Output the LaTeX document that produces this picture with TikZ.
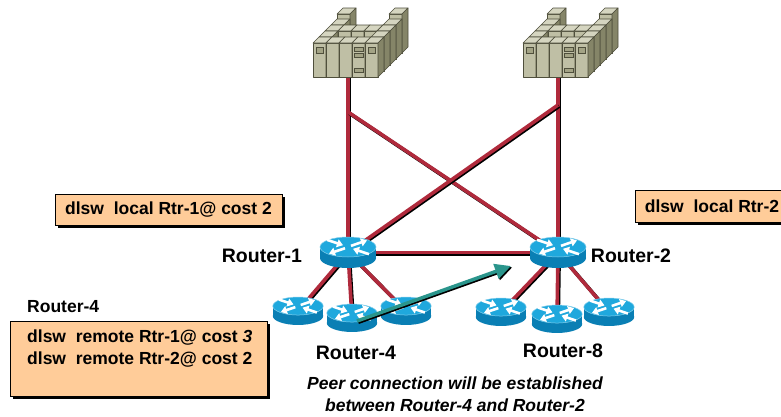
\documentclass[tikz,border=0pt]{standalone}
\usepackage{fontspec}
\setmainfont{Liberation Sans}
\usetikzlibrary{arrows.meta,shadows}

\definecolor{linkred}{HTML}{B02A3C}
\definecolor{peach}{HTML}{FFCC99}
\definecolor{arrowteal}{HTML}{2A958C}
\definecolor{rtop}{HTML}{1FA8DD}
\definecolor{rside}{HTML}{0A7FB4}
\definecolor{mffront}{HTML}{BFBFA5}
\definecolor{mftop}{HTML}{D5D5C0}
\definecolor{mfside}{HTML}{858568}
\definecolor{mfline}{HTML}{4F4F3C}
\definecolor{mfpanel}{HTML}{A3A385}

\newcommand{\boxfont}{\fontsize{17.5}{22}\selectfont\bfseries}
\newcommand{\labelfont}{\fontsize{19.5}{23}\selectfont\bfseries}

% one cabinet of the mainframe: column, depth, height
\newcommand{\mfcab}[3]{%
  \pgfmathsetmacro{\mfxl}{13*#1+6*#2}%
  \pgfmathsetmacro{\mfxr}{\mfxl+13}%
  \pgfmathsetmacro{\mfyb}{-6*#2}%
  \pgfmathsetmacro{\mfyt}{\mfyb-#3}%
  \pgfmathsetmacro{\mfxlb}{\mfxl+6}%
  \pgfmathsetmacro{\mfxrb}{\mfxr+6}%
  \pgfmathsetmacro{\mfytb}{\mfyt-6}%
  \pgfmathsetmacro{\mfybb}{\mfyb-6}%
  \filldraw[mfface] (\mfxl,\mfyt) rectangle (\mfxr,\mfyb);
  \filldraw[mftopface] (\mfxl,\mfyt) -- (\mfxr,\mfyt) -- (\mfxrb,\mfytb) -- (\mfxlb,\mfytb) -- cycle;
  \filldraw[mfsideface] (\mfxr,\mfyt) -- (\mfxrb,\mfytb) -- (\mfxrb,\mfybb) -- (\mfxr,\mfyb) -- cycle;
}

\tikzset{
  mfface/.style={fill=mffront, draw=mfline, line width=0.6pt, line join=round},
  mftopface/.style={fill=mftop, draw=mfline, line width=0.6pt, line join=round},
  mfsideface/.style={fill=mfside, draw=mfline, line width=0.6pt, line join=round},
  mfpanelbox/.style={fill=mfpanel, draw=mfline, line width=0.5pt},
  link/.style={draw=linkred, line width=3.6pt,
    preaction={draw=black, line width=3.6pt, transform canvas={xshift=1.2pt, yshift=-1.2pt}}},
  peerarrow/.style={draw=arrowteal, color=arrowteal, line width=3.5pt,
    -{Triangle[length=16pt,width=15pt]}},
  notebox/.style={draw=black, line width=0.8pt, fill=peach, inner sep=0pt,
    drop shadow={shadow xshift=3pt, shadow yshift=-3pt, fill=black, opacity=1}},
  pics/router/.style={code={
    \fill[rside] (-28,-5.5) rectangle (28,5.5);
    \fill[rside] (0,5.5) ellipse [x radius=28, y radius=10];
    \fill[rtop] (0,-5.5) ellipse [x radius=28, y radius=10];
    \draw[rtop!55!white, line width=0.5pt] (0,-5.5) ellipse [x radius=28, y radius=10];
    \begin{scope}[shift={(0,-5.5)}, white, line width=2.6pt, -{Triangle[length=6pt,width=8pt]}]
      \draw (3,-1.2) -- (19,-6.6);
      \draw (-3,1.2) -- (-19,6.6);
      \draw (-21,-7.2) -- (-5,-1.8);
      \draw (21,7.2) -- (5,1.8);
    \end{scope}
  }},
  pics/mainframe/.style={code={
    \begin{scope}[shift={(-35,0)}]
      \mfcab{0}{4}{39}\mfcab{4}{4}{39}
      \mfcab{0}{3}{34}\mfcab{4}{3}{34}
      \mfcab{0}{2}{34}\mfcab{1}{2}{34}\mfcab{2}{2}{34}\mfcab{3}{2}{34}\mfcab{4}{2}{34}
      \mfcab{0}{1}{34}\mfcab{4}{1}{34}
      \mfcab{0}{0}{34}\mfcab{1}{0}{34}\mfcab{2}{0}{34}\mfcab{3}{0}{34}\mfcab{4}{0}{34}
      % front panels
      \filldraw[mfpanelbox] (3,-30) rectangle (10.5,-24);
      \filldraw[mfpanelbox] (41,-30) rectangle (50,-26);
      \filldraw[mfpanelbox] (41,-24) rectangle (50,-20);
      \filldraw[mfpanelbox] (41,-9) rectangle (50,-5);
      \filldraw[mfpanelbox] (55,-30) rectangle (62.5,-24);
    \end{scope}
  }}
}

\begin{document}
\begin{tikzpicture}[x=1pt, y=-1pt]
  \useasboundingbox (0,0) rectangle (781,416);
  \fill[white] (0,0) rectangle (781,416);

  % positions
  \coordinate (mf1) at (348,77);
  \coordinate (mf2) at (558,77);
  \coordinate (mf1b) at (348,112);
  \coordinate (mf2b) at (558,105);
  \coordinate (r1) at (348,252.5);
  \coordinate (r2) at (558,252.5);
  \coordinate (r4a) at (298,311);
  \coordinate (r4b) at (352,318);
  \coordinate (r4c) at (406,311);
  \coordinate (r8a) at (501,312);
  \coordinate (r8b) at (557,319);
  \coordinate (r8c) at (609,312);
  \coordinate (peertip) at (511,266);

  % links
  \draw[link] (mf1) -- (r1);
  \draw[link] (mf2) -- (r2);
  \draw[link] (mf1b) -- (r2);
  \draw[link] (mf2b) -- (r1);
  \draw[link] (r1) -- (r2);
  \draw[link] (r1) -- (r4a);
  \draw[link] (r1) -- (r4b);
  \draw[link] (r1) -- (r4c);
  \draw[link] (r2) -- (r8a);
  \draw[link] (r2) -- (r8b);
  \draw[link] (r2) -- (r8c);

  % devices
  \pic at (mf1) {mainframe};
  \pic at (mf2) {mainframe};
  \pic at (r1) {router};
  \pic at (r2) {router};
  \foreach \r in {r4a,r4b,r4c,r8a,r8b,r8c}
    \pic[scale=0.9] at (\r) {router};

  % peer connection arrow
  \draw[peerarrow, draw=black, color=black, transform canvas={xshift=1.3pt, yshift=-1.3pt}]
    ([shift={(5,3)}]r4b) -- (peertip);
  \draw[peerarrow] ([shift={(5,3)}]r4b) -- (peertip);

  % labels
  \node[font=\labelfont, inner sep=0pt] (lr1) at (262,256) {Router-1};
  \node[font=\labelfont, inner sep=0pt] (lr2) at (631,256) {Router-2};
  \node[font=\labelfont, inner sep=0pt] (lr4) at (356,353) {Router-4};
  \node[font=\labelfont, inner sep=0pt] (lr8) at (563,351) {Router-8};
  \node[font=\boxfont, inner sep=0pt, anchor=west] (lr4top) at (27,307) {Router-4};

  % configuration notes
  \node[notebox, minimum width=227pt, minimum height=31pt, font=\boxfont]
    (note1) at (168.5,209.5) {dlsw~ local Rtr-1@ cost 2};
  \node[notebox, minimum width=154pt, minimum height=32pt, font=\boxfont]
    (note2) at (712,206) {dlsw~ local Rtr-2};
  \node[notebox, minimum width=257pt, minimum height=75pt] (note3) at (138.5,358.5) {};
  \node[font=\boxfont, inner sep=0pt, anchor=west, align=left] (note3text) at (27,349)
    {dlsw~ remote Rtr-1@ cost \textit{3}\\dlsw~ remote Rtr-2@ cost 2};

  % caption
  \node[font=\boxfont\itshape, inner sep=0pt, align=center] (peer) at (455,394)
    {Peer connection will be established\\between Router-4 and Router-2};
\end{tikzpicture}
\end{document}
